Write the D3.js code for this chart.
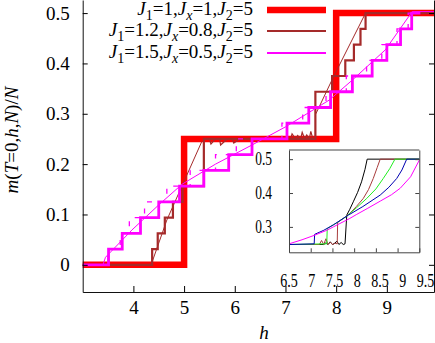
<!DOCTYPE html>
<html>
<head>
<meta charset="utf-8">
<script src="https://cdn.jsdelivr.net/npm/d3@7"></script>
<style>
  body { margin: 0; background: #fff; }
  svg { display: block; }
  text { font-family: "Liberation Serif", "DejaVu Serif", "Times New Roman", serif; fill: #000; }
</style>
</head>
<body>
<div id="chart"></div>
<script>
// ---- data ----
// ideal case J1=1, Jx=1, J2=5 : two big plateaus
const idealRisers = [5, 8];
const idealLevels = [0.25, 0.5];

// J1=1.2, Jx=0.8 : staircase (levels in units of 1/32)
const brownRisers = [4.37, 4.48, 4.62, 4.78, 4.97, 5.39, 7.59, 7.92, 8.18, 8.35, 8.48, 8.58];
const brownSteps  = [1, 2, 3, 4, 5, 8, 11, 12, 13, 14, 15, 16];
// noisy plateau at 1/4 between the two ramps
const brownNoiseH = [5.39, 5.5, 5.53, 5.62, 5.7, 5.72, 5.85, 5.95, 5.98, 6.1, 6.4, 6.9, 7.1, 7.13, 7.2, 7.24, 7.3, 7.33, 7.38, 7.42, 7.47, 7.5, 7.54, 7.59];
const brownNoiseM = [0.25, 0.25, 0.24, 0.25, 0.25, 0.238, 0.25, 0.25, 0.242, 0.25, 0.25, 0.25, 0.25, 0.26, 0.25, 0.257, 0.25, 0.263, 0.25, 0.258, 0.25, 0.265, 0.25, 0.25];
// thin brown line (other system size)
const brownThinH = [4.35, 4.66, 5.35, NaN, 7.6, 7.95, 8.58, 9.93];
const brownThinM = [0, 0.089, 0.245, NaN, 0.30, 0.374, 0.5, 0.5];

// J1=1.5, Jx=0.5 : staircase
const magRisers = [3.51, 3.78, 4.14, 4.5, 4.91, 5.39, 5.88, 6.34, 7.03, 7.46, 7.89, 8.32, 8.71, 9.0, 9.27, 9.49];
const magEnd = 9.66;
const magDashRisers = [3.5, 3.74, 3.92, 4.22, 4.66, 5.12, 5.62, 6.03, 6.93, 7.34, 7.8, 8.2, 8.6, 8.9, 9.2, 9.42];
const magThinH = [3.4, 3.45, 3.97, 4.5, 4.96, 5.62, 6.34, 7.0, 7.86, 8.32, 8.97, 9.5, 9.93];
const magThinM = [0, 0.015, 0.069, 0.119, 0.16, 0.2, 0.238, 0.274, 0.327, 0.367, 0.427, 0.503, 0.503];

// legend
const legendJ1 = ["1", "1.2", "1.5"];
const legendJx = ["1", "0.8", "0.5"];
const legendJ2 = ["5", "5", "5"];
const legendColors = ["#ff0000", "#a52a2a", "#ff00ff"];
const legendWidths = [6.5, 2.2, 2.2];

// axis ticks
const xTicks = [4, 5, 6, 7, 8, 9];
const yTicks = [0, 0.1, 0.2, 0.3, 0.4, 0.5];

// inset curves
const insetXTicks = [6.5, 7, 7.5, 8, 8.5, 9, 9.5];
const insetYTicks = [0.3, 0.4, 0.5];
const insetColors = ["#000000", "#a83c3c", "#22ee22", "#0000b0", "#ff00ff"];
const blackH = [6.5, 7.3, 7.35, 7.4, 7.45, 7.5, 7.55, 7.6, 7.65, 7.7, 7.75, 7.79, 7.83, 7.9, 7.98, 8.08, 8.17, 8.25, 8.3, 9.5];
const blackM = [0.248, 0.248, 0.253, 0.248, 0.256, 0.248, 0.251, 0.258, 0.248, 0.254, 0.248, 0.25, 0.335, 0.352, 0.374, 0.402, 0.433, 0.47, 0.5, 0.5];
const brownH = [6.5, 7.2, 7.25, 7.3, 7.35, 7.4, 7.45, 7.5, 7.55, 7.61, 7.62, 7.75, 7.9, 8.05, 8.21, 8.33, 8.44, 8.53, 8.6, 9.5];
const brownM = [0.248, 0.248, 0.26, 0.248, 0.265, 0.248, 0.255, 0.248, 0.252, 0.25, 0.313, 0.325, 0.34, 0.36, 0.384, 0.41, 0.443, 0.475, 0.5, 0.5];
const greenH = [6.5, 7.37, 7.38, 7.6, 7.83, 8.05, 8.29, 8.5, 8.67, 8.82, 8.94, 9.5];
const greenM = [0.248, 0.25, 0.295, 0.312, 0.332, 0.356, 0.384, 0.412, 0.443, 0.472, 0.5, 0.5];
const blueH = [6.5, 7.08, 7.09, 7.3, 7.52, 7.87, 8.2, 8.6, 8.8, 8.98, 9.1, 9.21, 9.5];
const blueM = [0.248, 0.25, 0.278, 0.29, 0.306, 0.335, 0.36, 0.394, 0.417, 0.443, 0.468, 0.5, 0.5];
const pinkH = [6.5, 6.8, 7.08, 7.37, 7.52, 7.9, 8.06, 8.3, 8.6, 8.86, 9.06, 9.3, 9.5];
const pinkM = [0.25, 0.262, 0.275, 0.29, 0.3, 0.325, 0.337, 0.354, 0.376, 0.395, 0.414, 0.448, 0.497];

// ---- drawing ----
const width = 435, height = 343;
const serif = "'Liberation Serif', 'DejaVu Serif', serif";

const svg = d3.select("#chart")
    .append("svg")
    .attr("width", width)
    .attr("height", height);

const x = d3.scaleLinear().domain([3, 9.93]).range([82.7, 434]);
const y = d3.scaleLinear().domain([-0.054, 0.526]).range([292, 0]);

// staircase points for curveStepAfter
function stairs(risers, levels, h0, h1) {
    const pts = [[h0, 0]];
    risers.forEach((r, i) => pts.push([r, levels[i]]));
    pts.push([h1, levels[levels.length - 1]]);
    return pts;
}
function zip(hs, ms) { return hs.map((h, i) => [h, ms[i]]); }

const stepLine = d3.line().x(d => x(d[0])).y(d => y(d[1])).curve(d3.curveStepAfter);
const polyLine = d3.line().defined(d => !isNaN(d[0])).x(d => x(d[0])).y(d => y(d[1]));

const plot = svg.append("g");

plot.append("path")
    .attr("d", stepLine(stairs(idealRisers, idealLevels, 3, 9.93)))
    .attr("fill", "none").attr("stroke", "#ff0000").attr("stroke-width", 6.5);

plot.append("path")
    .attr("d", stepLine(stairs(brownRisers, brownSteps.map(k => k / 32), 3, 9.93)))
    .attr("fill", "none").attr("stroke", "#a52a2a").attr("stroke-width", 2.2);
plot.append("path")
    .attr("d", polyLine(zip(brownNoiseH, brownNoiseM)))
    .attr("fill", "none").attr("stroke", "#a52a2a").attr("stroke-width", 1.2);
plot.append("path")
    .attr("d", polyLine(zip(brownThinH, brownThinM)))
    .attr("fill", "none").attr("stroke", "#a52a2a").attr("stroke-width", 1);

const magLevels = magRisers.map((r, i) => (i + 1) / 32);
plot.append("path")
    .attr("d", stepLine(stairs(magRisers, magLevels, 3, magEnd)))
    .attr("fill", "none").attr("stroke", "#ff00ff").attr("stroke-width", 2.8);
plot.append("path")
    .attr("d", polyLine(zip(magThinH, magThinM)))
    .attr("fill", "none").attr("stroke", "#ff00ff").attr("stroke-width", 1);
plot.append("path")
    .attr("d", stepLine(stairs(magDashRisers, magLevels, 3.3, 9.6)))
    .attr("fill", "none").attr("stroke", "#ff00ff").attr("stroke-width", 1.3)
    .attr("stroke-dasharray", "5,9");

// axes (gnuplot style: ticks pointing inward)
const axisColor = "#111";
svg.append("g")
    .attr("transform", "translate(0,292)")
    .call(d3.axisBottom(x).tickValues(xTicks).tickFormat(d3.format("d")).tickSize(-6).tickSizeOuter(0).tickPadding(9))
    .call(g => g.attr("font-family", null))
    .call(g => g.select(".domain").attr("stroke", axisColor))
    .call(g => g.selectAll("text").style("font-size", "19px").style("font-family", serif));

svg.append("g")
    .attr("transform", "translate(82.7,0)")
    .call(d3.axisLeft(y).tickValues(yTicks).tickFormat(d => d === 0 ? "0" : d3.format(".1f")(d)).tickSize(-5).tickSizeOuter(0).tickPadding(13))
    .call(g => g.attr("font-family", null))
    .call(g => g.select(".domain").attr("stroke", axisColor))
    .call(g => g.selectAll("text").style("font-size", "19px").style("font-family", serif));

svg.append("g")
    .attr("transform", "translate(434,0)")
    .call(d3.axisRight(y).tickValues(yTicks).tickFormat("").tickSize(-5).tickSizeOuter(0))
    .call(g => g.select(".domain").attr("stroke", axisColor));

// axis titles
const ylab = svg.append("text")
    .attr("transform", "translate(18,140) rotate(-90)")
    .attr("text-anchor", "middle")
    .style("font-size", "19px");
[["m", true], ["(", false], ["T", true], ["=0,", false], ["h", true], [",", false], ["N", true], [")/", false], ["N", true]]
    .forEach(p => ylab.append("tspan").text(p[0]).style("font-style", p[1] ? "italic" : "normal"));

svg.append("text")
    .attr("x", 264).attr("y", 339)
    .attr("text-anchor", "middle")
    .style("font-size", "19px").style("font-style", "italic")
    .text("h");

// legend
const legendRowY = [10, 31, 53];
legendRowY.forEach((ly, i) => {
    const t = svg.append("text")
        .attr("x", 253).attr("y", ly + 5)
        .attr("text-anchor", "end")
        .style("font-size", "19px");
    const parts = [
        ["J", "i"], ["1", "sub"], ["=" + legendJ1[i] + ",", ""],
        ["J", "i"], ["x", "subi"], ["=" + legendJx[i] + ",", ""],
        ["J", "i"], ["2", "sub"], ["=" + legendJ2[i], ""]
    ];
    parts.forEach(p => {
        const s = t.append("tspan").text(p[0]);
        if (p[1] === "i") s.style("font-style", "italic");
        if (p[1] === "sub" || p[1] === "subi") {
            s.attr("dy", 5).style("font-size", "14px");
            if (p[1] === "subi") s.style("font-style", "italic");
        }
        if (p[1] === "") s.attr("dy", -5);
    });
    svg.append("line")
        .attr("x1", 267).attr("x2", 326)
        .attr("y1", ly).attr("y2", ly)
        .attr("stroke", legendColors[i])
        .attr("stroke-width", legendWidths[i]);
});

// ---- inset ----
const ix = d3.scaleLinear().domain([6.5, 9.5]).range([289, 419.3]);
const iy = d3.scaleLinear().domain([0.225, 0.527]).range([252.3, 150]);
const ixLabel = d3.scaleLinear().domain([6.5, 9.5]).range([288.5, 425]);

const inset = svg.append("g");
inset.append("rect")
    .attr("x", ix(6.5)).attr("y", iy(0.527))
    .attr("width", ix(9.5) - ix(6.5)).attr("height", iy(0.225) - iy(0.527))
    .attr("fill", "#fff");

const insetLine = d3.line().x(d => ix(d[0])).y(d => iy(d[1]));
[[blackH, blackM], [brownH, brownM], [greenH, greenM], [blueH, blueM], [pinkH, pinkM]].forEach((c, i) => {
    inset.append("path")
        .attr("d", insetLine(zip(c[0], c[1])))
        .attr("fill", "none")
        .attr("stroke", insetColors[i])
        .attr("stroke-width", 1);
});

const insetAxisColor = "#444";
inset.append("g")
    .attr("transform", `translate(0,${iy(0.225)})`)
    .call(d3.axisBottom(ix).tickValues(insetXTicks).tickFormat("").tickSize(-4).tickSizeOuter(0))
    .call(g => g.selectAll("line,path").attr("stroke", insetAxisColor));
inset.append("g")
    .attr("transform", `translate(0,${iy(0.225) + 22})`)
    .call(d3.axisBottom(ixLabel).tickValues(insetXTicks).tickFormat(d => String(d)).tickSize(0).tickPadding(0))
    .call(g => g.attr("font-family", null))
    .call(g => g.select(".domain").remove())
    .call(g => g.selectAll("text")
        .style("font-size", "18px").style("font-family", serif)
        .attr("transform", "scale(0.78,1)"));
inset.append("g")
    .attr("transform", `translate(${ix(6.5)},0)`)
    .call(d3.axisLeft(iy).tickValues(insetYTicks).tickFormat(d3.format(".1f")).tickSize(-4).tickSizeOuter(0).tickPadding(17))
    .call(g => g.attr("font-family", null))
    .call(g => g.selectAll("line,path").attr("stroke", insetAxisColor))
    .call(g => g.selectAll("text")
        .style("font-size", "18px").style("font-family", serif)
        .attr("x", -17 / 0.75)
        .attr("transform", "scale(0.75,1)"));
inset.append("g")
    .attr("transform", `translate(${ix(9.5)},0)`)
    .call(d3.axisRight(iy).tickValues(insetYTicks).tickFormat("").tickSize(-4).tickSizeOuter(0))
    .call(g => g.selectAll("line,path").attr("stroke", insetAxisColor));
inset.append("line")
    .attr("x1", ix(6.5)).attr("x2", ix(9.5))
    .attr("y1", iy(0.527)).attr("y2", iy(0.527))
    .attr("stroke", insetAxisColor);
</script>
</body>
</html>
